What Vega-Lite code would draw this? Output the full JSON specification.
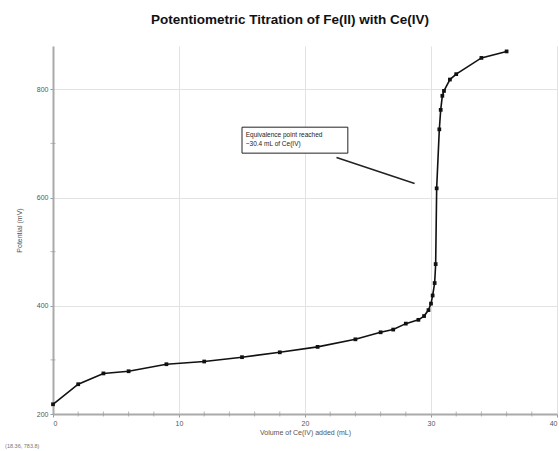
{
  "$schema": "https://vega.github.io/schema/vega-lite/v6.json",
  "autosize": "none",
  "width": 504,
  "height": 368,
  "padding": {"left": 53, "top": 46, "right": 2, "bottom": 37},
  "background": "white",
  "title": {
    "text": "Potentiometric Titration of Fe(II) with Ce(IV)",
    "font": "Liberation Sans",
    "fontSize": 13.5,
    "fontWeight": "bold",
    "color": "#111",
    "anchor": "middle",
    "dx": -15,
    "offset": 20
  },
  "config": {
    "view": {"stroke": null},
    "axis": {
      "labelFont": "Liberation Sans",
      "titleFont": "Liberation Sans",
      "labelFontSize": 7,
      "titleFontSize": 7,
      "labelColor": "#555",
      "titleColor": "#555",
      "titleFontWeight": "normal",
      "domainColor": "#aaa",
      "domainWidth": 2,
      "tickColor": "#999",
      "tickSize": 3,
      "gridColor": "#e2e2e2",
      "gridWidth": 1
    }
  },
  "datasets": {
    "titration": [
      {"volume": 0, "potential": 218},
      {"volume": 2, "potential": 255},
      {"volume": 4, "potential": 275},
      {"volume": 6, "potential": 279},
      {"volume": 9, "potential": 292},
      {"volume": 12, "potential": 297},
      {"volume": 15, "potential": 305},
      {"volume": 18, "potential": 314},
      {"volume": 21, "potential": 324},
      {"volume": 24, "potential": 338},
      {"volume": 26, "potential": 351},
      {"volume": 27, "potential": 356},
      {"volume": 28, "potential": 367},
      {"volume": 29, "potential": 374},
      {"volume": 29.45, "potential": 381},
      {"volume": 29.8, "potential": 392},
      {"volume": 30.0, "potential": 404},
      {"volume": 30.13, "potential": 419},
      {"volume": 30.29, "potential": 442},
      {"volume": 30.37, "potential": 477},
      {"volume": 30.45, "potential": 617},
      {"volume": 30.66, "potential": 726},
      {"volume": 30.77, "potential": 762},
      {"volume": 30.9, "potential": 788},
      {"volume": 31.03, "potential": 797},
      {"volume": 31.5, "potential": 818},
      {"volume": 32, "potential": 828},
      {"volume": 34, "potential": 858},
      {"volume": 36, "potential": 870}
    ],
    "xminor": [
      {"v": 2, "p": 200}, {"v": 4, "p": 200}, {"v": 6, "p": 200}, {"v": 8, "p": 200},
      {"v": 12, "p": 200}, {"v": 14, "p": 200}, {"v": 16, "p": 200}, {"v": 18, "p": 200},
      {"v": 22, "p": 200}, {"v": 24, "p": 200}, {"v": 26, "p": 200}, {"v": 28, "p": 200},
      {"v": 32, "p": 200}, {"v": 34, "p": 200}, {"v": 36, "p": 200}, {"v": 38, "p": 200}
    ],
    "yminor": [
      {"v": 0, "p": 300}, {"v": 0, "p": 500}, {"v": 0, "p": 700}
    ],
    "box": [{"x1": 15.0, "x2": 23.4, "y1": 682, "y2": 730}],
    "pointer": [
      {"volume": 22.5, "potential": 674, "ord": 1},
      {"volume": 28.7, "potential": 626, "ord": 2}
    ],
    "notes": [
      {"volume": 15.3, "potential": 716, "label": "Equivalence point reached"},
      {"volume": 15.3, "potential": 698, "label": "~30.4 mL of Ce(IV)"}
    ],
    "cursor": [{"volume": -3.8, "potential": 140, "label": "(18.36, 783.8)"}]
  },
  "layer": [
    {
      "data": {"name": "titration"},
      "mark": {"type": "line", "color": "#111", "strokeWidth": 1.6},
      "encoding": {
        "x": {
          "field": "volume", "type": "quantitative",
          "scale": {"domain": [0, 40], "nice": false},
          "axis": {
            "title": "Volume of Ce(IV) added (mL)",
            "values": [0, 10, 20, 30, 40],
            "titlePadding": 2,
            "labelPadding": 2
          }
        },
        "y": {
          "field": "potential", "type": "quantitative",
          "scale": {"domain": [200, 880], "nice": false, "zero": false},
          "axis": {
            "title": "Potential (mV)",
            "values": [200, 400, 600, 800],
            "titlePadding": 14,
            "labelPadding": 2
          }
        }
      }
    },
    {
      "data": {"name": "xminor"},
      "mark": {"type": "tick", "orient": "vertical", "color": "#999", "size": 5, "thickness": 1},
      "encoding": {
        "x": {"field": "v", "type": "quantitative"},
        "y": {"field": "p", "type": "quantitative"}
      }
    },
    {
      "data": {"name": "yminor"},
      "mark": {"type": "tick", "orient": "horizontal", "color": "#999", "size": 5, "thickness": 1},
      "encoding": {
        "x": {"field": "v", "type": "quantitative"},
        "y": {"field": "p", "type": "quantitative"}
      }
    },
    {
      "data": {"name": "titration"},
      "mark": {"type": "square", "color": "#111", "opacity": 1, "size": 14},
      "encoding": {
        "x": {"field": "volume", "type": "quantitative"},
        "y": {"field": "potential", "type": "quantitative"}
      }
    },
    {
      "data": {"name": "box"},
      "mark": {"type": "rect", "fill": "white", "stroke": "#222", "strokeWidth": 1},
      "encoding": {
        "x": {"field": "x1", "type": "quantitative"},
        "x2": {"field": "x2"},
        "y": {"field": "y1", "type": "quantitative"},
        "y2": {"field": "y2"}
      }
    },
    {
      "data": {"name": "pointer"},
      "mark": {"type": "line", "color": "#222", "strokeWidth": 1.5},
      "encoding": {
        "x": {"field": "volume", "type": "quantitative"},
        "y": {"field": "potential", "type": "quantitative"},
        "order": {"field": "ord"}
      }
    },
    {
      "data": {"name": "notes"},
      "mark": {"type": "text", "align": "left", "baseline": "middle", "font": "Liberation Sans", "fontSize": 6.5, "color": "#222"},
      "encoding": {
        "x": {"field": "volume", "type": "quantitative"},
        "y": {"field": "potential", "type": "quantitative"},
        "text": {"field": "label"}
      }
    },
    {
      "data": {"name": "cursor"},
      "mark": {"type": "text", "align": "left", "baseline": "middle", "font": "Liberation Sans", "fontSize": 5.5, "color": "#777"},
      "encoding": {
        "x": {"field": "volume", "type": "quantitative"},
        "y": {"field": "potential", "type": "quantitative"},
        "text": {"field": "label"}
      }
    }
  ]
}
